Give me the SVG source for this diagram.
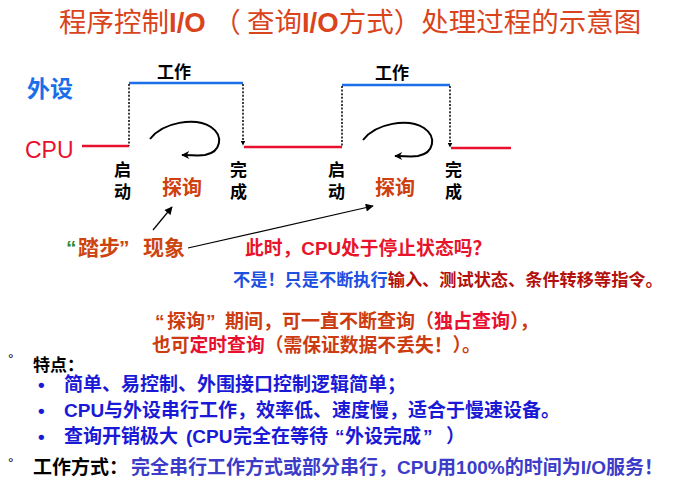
<svg xmlns="http://www.w3.org/2000/svg" width="684" height="484" viewBox="0 0 684 484">
<style>
text{font-family:"Liberation Sans","Noto Sans CJK SC",sans-serif;font-weight:bold}
.t{fill:#d9441c;font-size:27.5px}
.t .c{font-family:"Noto Sans CJK SC",sans-serif;font-weight:normal}
.lbl{font-size:17px;fill:#000}
.probe{font-size:20px;fill:#cf4010}
.blue{stroke:#1a6ee8;stroke-width:2.5;fill:none}
.red{stroke:#e8102e;stroke-width:2.5;fill:none}
.dot{stroke:#000;stroke-width:1.5;stroke-dasharray:2 1.6;fill:none}
.loop{stroke:#000;stroke-width:2;fill:none}
.thin{stroke:#000;stroke-width:1.2;fill:none}
.b{font-size:19px;fill:#1a1ad6}
</style>
<defs>
<marker id="ah" viewBox="0 0 10 10" refX="9" refY="5" markerWidth="5" markerHeight="5" orient="auto" markerUnits="userSpaceOnUse"><path d="M0,0 L10,5 L0,10 z" fill="#000"/></marker>
<marker id="ah2" viewBox="0 0 10 10" refX="9" refY="5" markerWidth="9" markerHeight="8" orient="auto" markerUnits="userSpaceOnUse"><path d="M0,0 L10,5 L0,10 z" fill="#000"/></marker>
<marker id="ah3" viewBox="0 0 10 10" refX="9" refY="5" markerWidth="10" markerHeight="8" orient="auto" markerUnits="userSpaceOnUse"><path d="M0,0 L10,5 L0,10 L3,5 z" fill="#000"/></marker>
</defs>

<g id="title">
<text class="t" x="59" y="32"><tspan class="c">程序控制</tspan>I/O <tspan class="c">（ 查询</tspan>I/O<tspan class="c">方式）处理过程的示意图</tspan></text>
</g>

<g id="connectors">
<path class="blue" d="M129,83 H243"/>
<path class="blue" d="M342,85 H450"/>
<path class="red" d="M82,146 H129"/>
<path class="red" d="M244,147 H342"/>
<path class="red" d="M451,148 H511"/>
<path class="dot" d="M129,84 V146"/>
<path class="dot" d="M243,84 V145" marker-end="url(#ah)"/>
<path class="dot" d="M342,86 V147"/>
<path class="dot" d="M450,86 V147" marker-end="url(#ah)"/>
<path class="loop" d="M150,139 C163,122 195,117 211,127 C224,136 221,152 205,155 C198,156 192,155 182,155" marker-end="url(#ah3)"/>
<path class="loop" d="M363,140 C376,123 408,118 424,128 C437,137 434,153 418,156 C411,157 405,156 395,156" marker-end="url(#ah3)"/>
<path class="thin" d="M153,230 L172,207" marker-end="url(#ah2)"/>
<path class="thin" d="M188,248 L373,206" marker-end="url(#ah2)"/>
</g>

<g id="peripheral"><text x="27" y="97" font-size="23" fill="#1a6ee8">外设</text></g>
<g id="cpu"><text x="25" y="158" font-size="23" fill="#e8102e" style="font-weight:normal">CPU</text></g>
<g id="work1"><text class="lbl" x="157" y="78">工作</text></g>
<g id="work2"><text class="lbl" x="375" y="79">工作</text></g>
<g id="start1"><text class="lbl" x="114" y="176">启</text><text class="lbl" x="114" y="198">动</text></g>
<g id="done1"><text class="lbl" x="230" y="176">完</text><text class="lbl" x="230" y="198">成</text></g>
<g id="start2"><text class="lbl" x="328" y="176">启</text><text class="lbl" x="328" y="198">动</text></g>
<g id="done2"><text class="lbl" x="445" y="176">完</text><text class="lbl" x="445" y="198">成</text></g>
<g id="probe1"><text class="probe" x="162" y="195">探询</text></g>
<g id="probe2"><text class="probe" x="375" y="195">探询</text></g>

<g id="treading">
<text y="255" font-size="21" fill="#cc4410"><tspan x="66" fill="#2e8b2e">“</tspan><tspan x="78">踏步</tspan><tspan x="119">”</tspan><tspan x="143">现象</tspan></text>
</g>
<g id="question"><text x="245" y="255" font-size="18.8" fill="#e8142c">此时，CPU处于停止状态吗？</text></g>
<g id="answer"><text x="233" y="286" font-size="17.2" fill="#1d4fe0">不是！只是不断执行<tspan fill="#b3100c">输入、测试状态、条件转移等指令。</tspan></text></g>
<g id="note">
<text y="328" font-size="19" fill="#cc3c10"><tspan x="155">“</tspan><tspan x="167">探询</tspan><tspan x="206">”</tspan><tspan x="225">期间，可一直不断查询（<tspan fill="#e81030">独占查询</tspan>），</tspan></text>
<text x="152" y="352" font-size="18.8" fill="#cc3c10">也可<tspan fill="#e81030">定时查询</tspan>（需保证数据不丢失！）。</text>
</g>

<g id="features">
<text x="8" y="364" font-size="14" fill="#000" style="font-weight:normal">°</text>
<text x="33" y="371" font-size="17" fill="#000">特点：</text>
<text class="b" x="38" y="391">•</text>
<text class="b" x="64" y="391">简单、易控制、外围接口控制逻辑简单；</text>
<text class="b" x="38" y="417">•</text>
<text class="b" x="64" y="417">CPU与外设串行工作，效率低、速度慢，适合于慢速设备。</text>
<text class="b" x="38" y="443">•</text>
<text class="b" y="443"><tspan x="64">查询开销极大</tspan><tspan x="186">(CPU</tspan><tspan x="233">完全在等待</tspan><tspan x="335">“</tspan><tspan x="345">外设完成</tspan><tspan x="423">”</tspan><tspan x="446">）</tspan></text>
</g>
<g id="mode">
<text x="8" y="468" font-size="14" fill="#000" style="font-weight:normal">°</text>
<text x="33" y="474" font-size="19" fill="#000">工作方式：</text>
<text x="131" y="474" font-size="19" fill="#3c3cc8">完全串行工作方式或部分串行，CPU用100%的时间为I/O服务！</text>
</g>
</svg>
